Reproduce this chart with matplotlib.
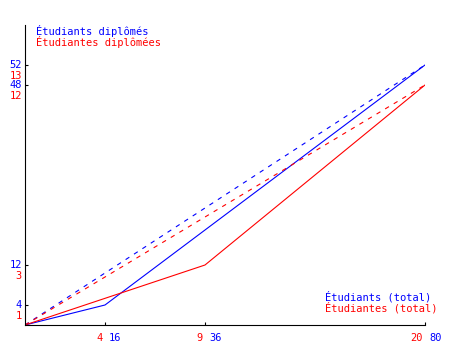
import matplotlib
matplotlib.use("Agg")
from matplotlib import pyplot as plt

# blue series (hommes), plotted on the blue scale
blue_total = [0, 16, 36, 80]
blue_grad = [0, 4, 19, 52]
# red series (femmes), red scale = blue scale / 4
red_total = [0, 9, 20]
red_grad = [0, 3, 12]
scale = 4

xticks_blue = [16, 36, 80]
xticks_red = [4, 9, 20]
yticks_blue = [4, 12, 48, 52]
yticks_red = [1, 3, 12, 13]

BLUE = "#0000ff"
RED = "#ff0000"
plt.rcParams["font.family"] = "DejaVu Sans Mono"
fs = 7.5

fig = plt.figure(figsize=(4.5, 3.5), dpi=100)
ax = fig.add_axes([25 / 450, 25 / 350, 400 / 450, 300 / 350])

ax.plot(blue_total, blue_grad, color=BLUE, lw=0.8)
ax.plot([x * scale for x in red_total], [y * scale for y in red_grad], color=RED, lw=0.8)
ax.plot([blue_total[0], blue_total[-1]], [blue_grad[0], blue_grad[-1]],
        color=BLUE, lw=0.8, linestyle=(0, (4, 5)))
ax.plot([red_total[0] * scale, red_total[-1] * scale], [red_grad[0] * scale, red_grad[-1] * scale],
        color=RED, lw=0.8, linestyle=(0, (4, 5)))

ax.set_xlim(0, 80)
ax.set_ylim(0, 60)
ax.spines["top"].set_visible(False)
ax.spines["right"].set_visible(False)
ax.spines["left"].set_linewidth(0.8)
ax.spines["bottom"].set_linewidth(0.8)
ax.set_xticks(xticks_blue)
ax.set_yticks(yticks_blue)
ax.set_xticklabels([])
ax.set_yticklabels([])
ax.tick_params(direction="in", length=2.5, width=0.8)

# double tick labels
for b, r in zip(yticks_blue, yticks_red):
    ax.annotate(str(b), (0, b), xycoords=("axes fraction", "data"), xytext=(-3, 0),
                textcoords="offset pixels", ha="right", va="center", color=BLUE, fontsize=fs)
    ax.annotate(str(r), (0, b), xycoords=("axes fraction", "data"), xytext=(-3, -11),
                textcoords="offset pixels", ha="right", va="center", color=RED, fontsize=fs)
for b, r in zip(xticks_blue, xticks_red):
    ax.annotate(str(b), (b, 0), xycoords=("data", "axes fraction"), xytext=(4, -13),
                textcoords="offset pixels", ha="left", va="center", color=BLUE, fontsize=fs)
    ax.annotate(str(r), (b, 0), xycoords=("data", "axes fraction"), xytext=(-2, -13),
                textcoords="offset pixels", ha="right", va="center", color=RED, fontsize=fs)

ax.text(2.2, 58.8, "Étudiants diplômés", color=BLUE, fontsize=fs, va="center")
ax.text(2.2, 56.6, "Étudiantes diplômées", color=RED, fontsize=fs, va="center")
ax.text(60, 5.6, "Étudiants (total)", color=BLUE, fontsize=fs, va="center")
ax.text(60, 3.4, "Étudiantes (total)", color=RED, fontsize=fs, va="center")

fig.savefig("out.png", dpi=100)
